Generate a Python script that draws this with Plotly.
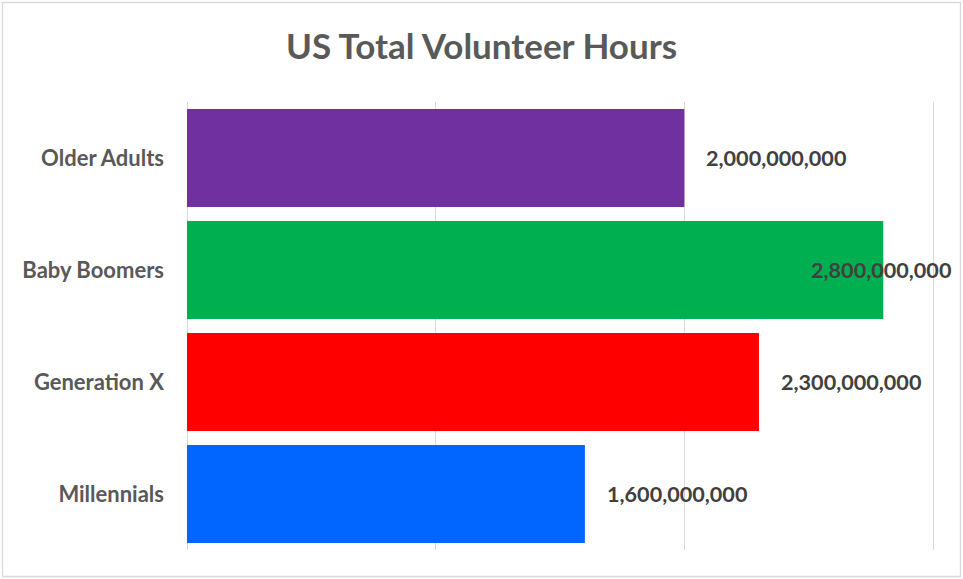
import plotly.graph_objects as go

categories = ["Millennials", "Generation X", "Baby Boomers", "Older Adults"]
hours = [1600000000, 2300000000, 2800000000, 2000000000]
colors = ["#0066FF", "#FF0000", "#00B050", "#7030A0"]
axis_max = 3000000000
tick_step = 1000000000

fig = go.Figure()
fig.add_trace(go.Bar(
    y=categories, x=hours, orientation="h",
    marker=dict(color=colors, line=dict(width=0)),
    hoverinfo="skip",
))

label_font = dict(family="Lato", size=21.6, color="#404040", weight="bold")
annotations = []
for c, v in zip(categories, hours):
    txt = f"{v:,}"
    if v > 0.9 * axis_max:
        annotations.append(dict(x=1, xref="paper", y=c, yref="y", text=txt,
                                showarrow=False, xanchor="right", xshift=17,
                                font=label_font))
    else:
        annotations.append(dict(x=v, xref="x", y=c, yref="y", text=txt,
                                showarrow=False, xanchor="left", xshift=20,
                                font=label_font))

L, R, T, B = 187, 27, 102, 29
fig.update_layout(
    width=963, height=579,
    margin=dict(l=L, r=R, t=T, b=B),
    paper_bgcolor="white", plot_bgcolor="white",
    title=dict(text="<b>US Total Volunteer Hours</b>", x=0.5, xanchor="center",
               y=1 - 47 / 579, yanchor="middle",
               font=dict(family="Lato", size=35, color="#595959")),
    bargap=0.125,
    showlegend=False,
    annotations=annotations,
    xaxis=dict(range=[0, axis_max * 1.004], dtick=tick_step, tick0=0, showticklabels=False,
               showgrid=True, gridcolor="#D9D9D9", gridwidth=1.3,
               zeroline=True, zerolinecolor="#D9D9D9", zerolinewidth=1.3,
               showline=False, fixedrange=True),
    yaxis=dict(categoryorder="array", categoryarray=categories, showgrid=False,
               ticks="", ticklabelstandoff=22, showline=False, fixedrange=True,
               tickfont=dict(family="Lato", size=22, color="#595959", weight="bold")),
)

# light grey chart border
px_w = 963 - L - R
py_h = 579 - T - B
fig.add_shape(type="rect", xref="paper", yref="paper",
              x0=(2.5 - L) / px_w, x1=(960.5 - L) / px_w,
              y0=(2.5 - B) / py_h, y1=(576.5 - B) / py_h,
              line=dict(color="#D9D9D9", width=1.3), layer="below")

fig.write_html("out.html", config={"displayModeBar": False},
               post_script="document.body.style.margin='0px';")
